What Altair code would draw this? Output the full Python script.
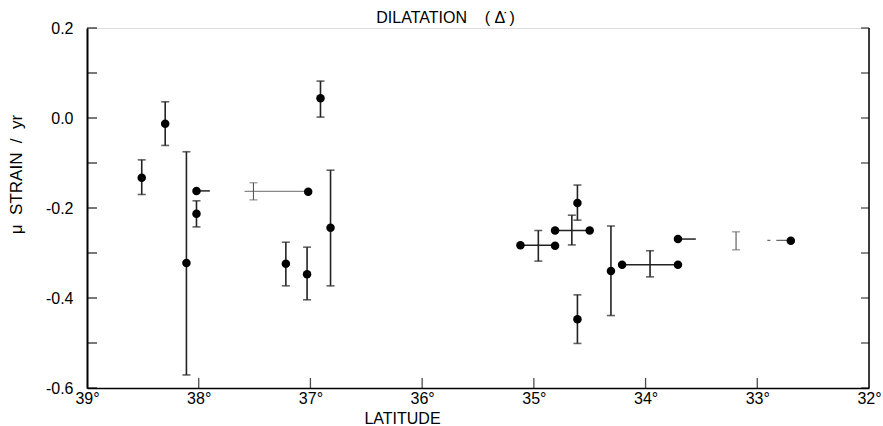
import altair as alt
import pandas as pd

# ---- data ----
# single stations: latitude, dilatation rate, upper / lower error
st_lat = [38.51, 38.30, 38.11, 38.02, 37.22, 37.03, 36.91, 36.82, 34.61, 34.61, 34.31]
st_val = [-0.133, -0.013, -0.322, -0.213, -0.324, -0.347, 0.044, -0.244, -0.189, -0.447, -0.340]
st_hi = [-0.093, 0.036, -0.075, -0.184, -0.276, -0.287, 0.082, -0.116, -0.149, -0.393, -0.240]
st_lo = [-0.170, -0.061, -0.571, -0.242, -0.373, -0.404, 0.002, -0.373, -0.227, -0.501, -0.439]

# networks: end points
net_lat = [38.02, 37.02, 35.12, 34.81, 34.81, 34.50, 34.21, 33.71, 33.71, 32.70]
net_val = [-0.162, -0.164, -0.283, -0.284, -0.250, -0.250, -0.326, -0.326, -0.269, -0.273]

# network error bars (mid latitude)
nerr_lat = [34.96, 34.66, 33.96]
nerr_hi = [-0.250, -0.216, -0.295]
nerr_lo = [-0.318, -0.282, -0.353]
ferr_lat = [37.51, 33.19]
ferr_hi = [-0.144, -0.253]
ferr_lo = [-0.182, -0.293]

# connecting segments (lat from, lat to, value)
seg_a = [38.02, 35.12, 34.81, 34.21, 33.71]
seg_b = [37.90, 34.81, 34.50, 33.71, 33.55]
seg_v = [-0.162, -0.283, -0.250, -0.326, -0.269]
fseg_a = [37.59]
fseg_b = [37.02]
fseg_v = [-0.163]
dseg_a = [32.91]
dseg_b = [32.70]
dseg_v = [-0.272]

x_labels = [39, 38, 37, 36, 35, 34, 33, 32]
y_labels = [0.2, 0.0, -0.2, -0.4, -0.6]
y_ticks = [0.2, 0.1, 0.0, -0.1, -0.2, -0.3, -0.4, -0.5, -0.6]
x_ticks = [38, 37, 36, 35, 34, 33]

NB = "\u00a0"
TITLE = "DILATATION" + NB * 4 + "(" + NB + "Δ\u0307" + NB + ")"
TITLE_LAT = 35.79
Y_TITLE = "μ" + NB * 2 + "STRAIN" + NB * 2 + "/" + NB * 2 + "yr"

FONT = "Liberation Sans"
W, H = 782, 360

xscale = alt.Scale(domain=[32, 39], reverse=True, nice=False, zero=False)
yscale = alt.Scale(domain=[-0.6, 0.2], nice=False, zero=False)

xaxis = alt.Axis(values=x_labels, labelExpr="datum.value + '°'", ticks=False, grid=False,
                 domainColor="black", domainWidth=1.5, labelPadding=2, labelFontSize=16,
                 labelFont=FONT, labelColor="black", labelFlush=False,
                 title="LATITUDE", titleFont=FONT, titleFontSize=16, titleFontWeight="normal",
                 titleX=315, titleY=35, titleBaseline="alphabetic", titleColor="black")
yaxis = alt.Axis(values=y_labels, labelExpr="(datum.value < 0 ? '-' : '') + format(abs(datum.value), '.1f')",
                 ticks=False, grid=False, domainColor="black", domainWidth=2, labelPadding=14,
                 labelFontSize=16, labelFont=FONT, labelColor="black",
                 title=Y_TITLE, titleFont=FONT, titleFontSize=17, titleFontWeight="normal",
                 titleX=-71, titleY=146, titleAngle=270, titleAlign="center",
                 titleBaseline="middle", titleColor="black")


def X(f):
    return alt.X(f, type="quantitative", scale=xscale, axis=xaxis)


def Y(f):
    return alt.Y(f, type="quantitative", scale=yscale, axis=yaxis)


st = pd.DataFrame({"lat": st_lat, "val": st_val, "hi": st_hi, "lo": st_lo})
net = pd.DataFrame({"lat": net_lat, "val": net_val})
nerr = pd.DataFrame({"lat": nerr_lat, "hi": nerr_hi, "lo": nerr_lo})
ferr = pd.DataFrame({"lat": ferr_lat, "hi": ferr_hi, "lo": ferr_lo})
seg = pd.DataFrame({"a": seg_a, "b": seg_b, "v": seg_v})
fseg = pd.DataFrame({"a": fseg_a, "b": fseg_b, "v": fseg_v})
dseg = pd.DataFrame({"a": dseg_a, "b": dseg_b, "v": dseg_v})
yt = pd.DataFrame({"v": y_ticks})
xt = pd.DataFrame({"lat": x_ticks})
border = pd.DataFrame({"lat": [32], "lo": [-0.6], "hi": [0.2]})

layers = []

# right border and inward ticks
layers.append(alt.Chart(border).mark_rule(color="black", strokeWidth=1.5).encode(
    x=X("lat"), y=Y("lo"), y2="hi"))
layers.append(alt.Chart(yt).mark_tick(orient="horizontal", size=10, thickness=1.5, xOffset=5,
                                      color="black").encode(x=alt.datum(39, scale=xscale), y=Y("v")))
layers.append(alt.Chart(yt).mark_tick(orient="horizontal", size=8, thickness=1.3, xOffset=-4,
                                      color="black").encode(x=alt.datum(32, scale=xscale), y=Y("v")))
layers.append(alt.Chart(xt).mark_tick(orient="vertical", size=10, thickness=1.3, yOffset=-5,
                                      color="black").encode(x=X("lat"), y=alt.datum(-0.6, scale=yscale)))

# connecting segments
layers.append(alt.Chart(seg).mark_rule(color="#222", strokeWidth=1.5).encode(
    x=X("a"), x2="b", y=Y("v")))
layers.append(alt.Chart(fseg).mark_rule(color="#888", strokeWidth=1.2).encode(
    x=X("a"), x2="b", y=Y("v")))
layers.append(alt.Chart(dseg).mark_rule(color="#666", strokeWidth=1.2, strokeDash=[3, 6, 40]).encode(
    x=X("a"), x2="b", y=Y("v")))

# error bars
for df, col, sw in [(st, "#222", 1.6), (nerr, "#222", 1.6), (ferr, "#555", 1.1)]:
    layers.append(alt.Chart(df).mark_rule(color=col, strokeWidth=sw).encode(
        x=X("lat"), y=Y("lo"), y2="hi"))
    layers.append(alt.Chart(df).mark_tick(orient="horizontal", size=8, thickness=sw,
                                          color=col).encode(x=X("lat"), y=Y("lo")))
    layers.append(alt.Chart(df).mark_tick(orient="horizontal", size=8, thickness=sw,
                                          color=col).encode(x=X("lat"), y=Y("hi")))

# dots
layers.append(alt.Chart(st).mark_circle(size=72, color="black", opacity=1).encode(
    x=X("lat"), y=Y("val")))
layers.append(alt.Chart(net).mark_circle(size=72, color="black", opacity=1).encode(
    x=X("lat"), y=Y("val")))

# title as text placed above the top of the value axis
layers.append(alt.Chart(pd.DataFrame({"t": [TITLE]})).mark_text(
    font=FONT, fontSize=16, color="black", align="center", baseline="alphabetic", dy=-5).encode(
    x=alt.datum(TITLE_LAT, scale=xscale), y=alt.datum(0.2, scale=yscale), text="t:N"))

chart = alt.layer(*layers).properties(
    width=W, height=H,
    autosize=alt.AutoSizeParams(type="none"),
    padding={"left": 87, "top": 28, "right": 14, "bottom": 38},
).configure_view(stroke=None).configure(background="white")

chart.save("out.html", embed_options={"renderer": "svg", "actions": False})
